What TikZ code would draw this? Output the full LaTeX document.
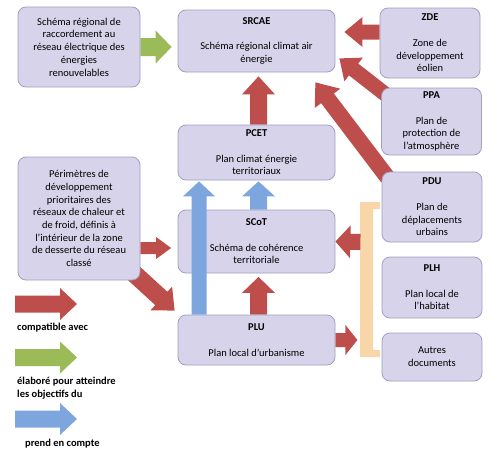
\documentclass[tikz,border=0pt]{standalone}
\usepackage{fontspec}
\setmainfont{Carlito}
\usetikzlibrary{calc, backgrounds}

\definecolor{boxfill}{RGB}{214,211,234}
\definecolor{boxline}{RGB}{160,160,192}
\definecolor{arrred}{RGB}{190,78,75}
\definecolor{arrgreen}{RGB}{155,187,89}
\definecolor{arrblue}{RGB}{125,165,222}
\definecolor{brkpeach}{RGB}{249,214,170}

\tikzset{
  docbox/.style={draw=boxline, fill=boxfill, rounded corners=8pt, line width=0.8pt,
    align=center, inner sep=2pt, font=\fontsize{10.5}{12.7}\selectfont},
  leftbox/.style={docbox, minimum width=122pt},
  midbox/.style={docbox, minimum width=157pt},
  sidebox/.style={docbox, minimum width=100pt},
  legtext/.style={anchor=west, align=left, inner sep=0pt, font=\bfseries\fontsize{10.5}{12.7}\selectfont},
}

% title line of a box, then one blank line
\newcommand{\doctitle}[1]{\textbf{#1}\\[12.7pt]}

% block arrow: colour, shaft half width, head half width, head length, from, to
\newcommand{\blockarrow}[6]{%
  \coordinate (ba) at (#5);
  \coordinate (bb) at (#6);
  \coordinate (bc) at ($(bb)!#4!(ba)$);
  \fill[#1] ($(ba)!#2!90:(bb)$) -- ($(bc)!#2!90:(bb)$) -- ($(bc)!#3!90:(bb)$) -- (bb)
    -- ($(bc)!#3!-90:(bb)$) -- ($(bc)!#2!-90:(bb)$) -- ($(ba)!#2!-90:(bb)$) -- cycle;
}

\begin{document}
\begin{tikzpicture}[x=1pt, y=-1pt]
\useasboundingbox (0,0) rectangle (500,466);

% left column
\node[leftbox, minimum height=80pt] (schema) at (79,47)
  {Schéma régional de\\raccordement au\\réseau électrique des\\énergies\\renouvelables};
\node[leftbox, minimum height=123pt] (perim) at (79,218.5)
  {Périmètres de\\développement\\prioritaires des\\réseaux de chaleur et\\de froid, définis à\\l’intérieur de la zone\\de desserte du réseau\\classé};

% middle column
\node[midbox, minimum height=62pt] (srcae) at (256.5,41)
  {\doctitle{SRCAE}Schéma régional climat air\\énergie};
\node[midbox, minimum height=55pt] (pcet) at (256.5,152.5)
  {\doctitle{PCET}Plan climat énergie\\territoriaux};
\node[midbox, minimum height=63pt] (scot) at (256.5,241.5)
  {\doctitle{SCoT}Schéma de cohérence\\territoriale};
\node[midbox, minimum height=50pt] (plu) at (256.5,340)
  {\doctitle{PLU}Plan local d’urbanisme};

% right column
\node[sidebox, minimum height=70pt] (zde) at (430,43)
  {\doctitle{ZDE}Zone de\\développement\\éolien};
\node[sidebox, minimum height=67pt] (ppa) at (431.5,121.5)
  {\doctitle{PPA}Plan de\\protection de\\l’atmosphère};
\node[sidebox, minimum height=70pt] (pdu) at (432,207)
  {\doctitle{PDU}Plan de\\déplacements\\urbains};
\node[sidebox, minimum height=61pt] (plh) at (432,287.5)
  {\doctitle{PLH}Plan local de\\l’habitat};
\node[sidebox, minimum height=48pt] (autres) at (432,357)
  {Autres\\documents};

% arrow ends
\coordinate (zdeout) at ([shift={(0,-11)}]zde.west);
\coordinate (zdein) at ($(zdeout -| srcae.east)+(9,0)$);
\coordinate (ppaout) at ([shift={(6,8)}]ppa.north west);
\coordinate (ppain) at ([shift={(4,-14)}]srcae.south east);
\coordinate (pduout) at ([shift={(6,6)}]pdu.north west);
\coordinate (pduin) at ([shift={(-20,10)}]srcae.south east);
\coordinate (perimout) at ([shift={(0,29.5)}]perim.east);
\coordinate (perimin) at ($(perimout -| scot.west)+(-6.5,0)$);
\coordinate (brkout) at ($(scot.east)+(25,0.5)$);
\coordinate (brkin) at ($(plu.east)+(22,0)$);

\begin{scope}[on background layer]
% bracket round PDU, PLH and autres documents
\fill[brkpeach] (360,202) -- (380,202) -- (380,209) -- (373,209) -- (373,350)
  -- (380,350) -- (380,357) -- (360,357) -- cycle;

\blockarrow{arrgreen}{9pt}{16.5pt}{16pt}{schema.east}{$(schema.east -| srcae.west)+(-6,0)$}
\blockarrow{arrred}{7.5pt}{15pt}{18pt}{zdeout}{zdein}
\blockarrow{arrred}{7.5pt}{15pt}{18pt}{ppaout}{ppain}
\blockarrow{arrred}{8pt}{16pt}{20pt}{pduout}{pduin}
\blockarrow{arrred}{8.5pt}{16.5pt}{18pt}{[xshift=2pt]pcet.north}{[shift={(2,4)}]srcae.south}
\blockarrow{arrblue}{8.5pt}{16.5pt}{15pt}{[xshift=2pt]scot.north}{[shift={(2,1)}]pcet.south}
\blockarrow{arrred}{8.5pt}{16.5pt}{16pt}{[xshift=2pt]plu.north}{[shift={(2,3.5)}]scot.south}
\blockarrow{arrred}{7pt}{15pt}{12pt}{plu.east}{brkin}
\blockarrow{arrred}{8pt}{16.5pt}{15pt}{brkout}{scot.east}
\blockarrow{arrred}{6pt}{11pt}{15pt}{perimout}{perimin}
\blockarrow{arrred}{9pt}{16pt}{18pt}{[shift={(-7,-7.5)}]perim.south east}{[shift={(-3,-4)}]plu.north west}
\end{scope}

% long arrow in front of SCoT
\blockarrow{arrblue}{7.5pt}{16pt}{15pt}{[xshift=-57.5pt]plu.north}{[shift={(-57.5,1)}]pcet.south}

% legend
\coordinate (lgredA) at (15,304);
\coordinate (lgredB) at (77,304);
\blockarrow{arrred}{8.5pt}{16pt}{17pt}{lgredA}{lgredB}
\node[legtext] (lgred) at (17,328) {compatible avec};

\coordinate (lggreenA) at (15,357.5);
\coordinate (lggreenB) at (77,357.5);
\blockarrow{arrgreen}{8.5pt}{16pt}{17pt}{lggreenA}{lggreenB}
\node[legtext] (lggreen) at (17,388.5) {élaboré pour atteindre\\les objectifs du};

\coordinate (lgblueA) at (15,419);
\coordinate (lgblueB) at (77,419);
\blockarrow{arrblue}{8.5pt}{16pt}{17pt}{lgblueA}{lgblueB}
\node[legtext] (lgblue) at (25,444) {prend en compte};
\end{tikzpicture}
\end{document}
